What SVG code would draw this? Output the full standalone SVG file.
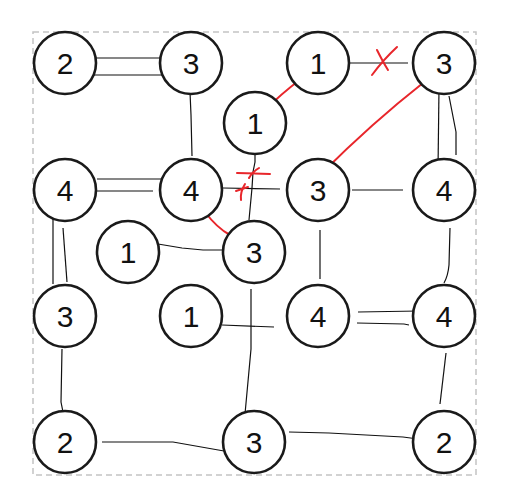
<svg xmlns="http://www.w3.org/2000/svg" width="512" height="499" viewBox="0 0 512 499">
<style>
.bg{fill:#fff}
.frame{fill:none;stroke:#c4c4c4;stroke-width:1.5;stroke-dasharray:6 4}
.node circle{fill:#fff;stroke:#1a1a1a;stroke-width:2.6}
.node text{font-family:"Liberation Sans",Arial,sans-serif;font-size:30px;fill:#111;text-anchor:middle}
.edge{fill:none;stroke:#111;stroke-width:1.2}
.red{fill:none;stroke:#e8262b;stroke-width:2;stroke-linecap:round}
</style>
<rect class="bg" x="0" y="0" width="512" height="499"/>
<rect class="frame" x="33" y="32" width="443" height="443"/>
<g id="connectors">
<path class="edge" d="M94,58 L162,58"/>
<path class="edge" d="M90,75 L163,75"/>
<path class="edge" d="M190,92 L191,115 L192,156"/>
<path class="edge" d="M97,179 L162,179"/>
<path class="edge" d="M97,191 L153,191"/>
<path class="edge" d="M349,63 L408,63"/>
<path class="edge" d="M439,88 L438,170"/>
<path class="edge" d="M449,96 L456,132 L456,155"/>
<path class="edge" d="M352,190 L403,190"/>
<path class="edge" d="M223,188 L280,189"/>
<path class="edge" d="M255,148 L255,162 L253,172 L252,188 L249,220"/>
<path class="edge" d="M53,215 L53,284"/>
<path class="edge" d="M63,228 L67,282"/>
<path class="edge" d="M158,244 L182,248 L203,250 L223,250"/>
<path class="edge" d="M251,289 L251,349 L245,414"/>
<path class="edge" d="M222,325 L274,327"/>
<path class="edge" d="M320,230 L320,279"/>
<path class="edge" d="M450,228 L449,265 Q448,276 444,283"/>
<path class="edge" d="M358,312 L419,311"/>
<path class="edge" d="M357,323 L404,324 L409,325"/>
<path class="edge" d="M62,349 L61,402 L63,412"/>
<path class="edge" d="M102,442 L173,442 L224,451"/>
<path class="edge" d="M289,432 L329,433 L403,437 L418,439"/>
<path class="edge" d="M446,353 L440,404"/>
<path class="red" d="M263,112 Q282,93 301,79"/>
<path class="red" d="M423,83 Q372,123 321,174"/>
<path class="red" d="M205,212 Q217,228 230,235"/>
<path class="red" d="M397,47 Q383,60 372,75"/>
<path class="red" d="M377,50 Q383,62 388,70"/>
<path class="red" d="M237,173 L270,174"/>
<path class="red" d="M259,168 Q252,172 249,178"/>
<path class="red" d="M245,184 Q240,192 241,200"/>
<path class="red" d="M236,191 L248,187"/>
</g>
<g id="n1" class="node"><circle cx="65" cy="63" r="31"/><text x="65" y="74">2</text></g>
<g id="n2" class="node"><circle cx="191" cy="63" r="31"/><text x="191" y="74">3</text></g>
<g id="n3" class="node"><circle cx="318" cy="63" r="31"/><text x="318" y="74">1</text></g>
<g id="n4" class="node"><circle cx="444" cy="63" r="31"/><text x="444" y="74">3</text></g>
<g id="n5" class="node"><circle cx="255" cy="123" r="31"/><text x="255" y="134">1</text></g>
<g id="n6" class="node"><circle cx="65" cy="190" r="31"/><text x="65" y="201">4</text></g>
<g id="n7" class="node"><circle cx="191" cy="190" r="31"/><text x="191" y="201">4</text></g>
<g id="n8" class="node"><circle cx="318" cy="190" r="31"/><text x="318" y="201">3</text></g>
<g id="n9" class="node"><circle cx="444" cy="190" r="31"/><text x="444" y="201">4</text></g>
<g id="n10" class="node"><circle cx="128" cy="252" r="31"/><text x="128" y="263">1</text></g>
<g id="n11" class="node"><circle cx="254" cy="252" r="31"/><text x="254" y="263">3</text></g>
<g id="n12" class="node"><circle cx="65" cy="316" r="31"/><text x="65" y="327">3</text></g>
<g id="n13" class="node"><circle cx="191" cy="316" r="31"/><text x="191" y="327">1</text></g>
<g id="n14" class="node"><circle cx="318" cy="316" r="31"/><text x="318" y="327">4</text></g>
<g id="n15" class="node"><circle cx="444" cy="316" r="31"/><text x="444" y="327">4</text></g>
<g id="n16" class="node"><circle cx="65" cy="442" r="31"/><text x="65" y="453">2</text></g>
<g id="n17" class="node"><circle cx="254" cy="442" r="31"/><text x="254" y="453">3</text></g>
<g id="n18" class="node"><circle cx="444" cy="442" r="31"/><text x="444" y="453">2</text></g>
</svg>
